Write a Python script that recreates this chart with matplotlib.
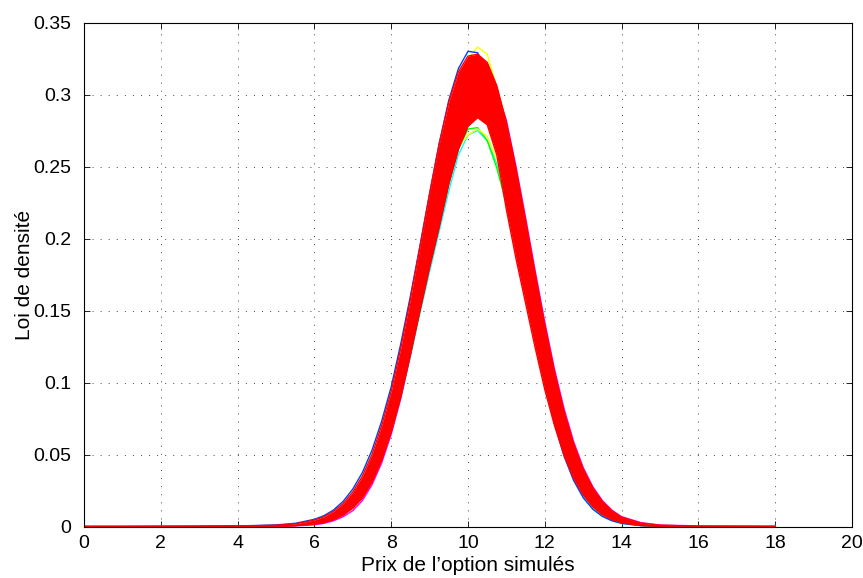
import matplotlib
matplotlib.use("Agg")
import matplotlib.pyplot as plt

# ---- data ----
x_grid = [0, 1, 2, 3, 4, 4.5, 5, 5.5, 6, 6.25, 6.5, 6.75, 7, 7.25, 7.5, 7.75,
          8, 8.25, 8.5, 8.75, 9, 9.25, 9.5, 9.75, 10, 10.25, 10.5, 10.75,
          11, 11.25, 11.5, 11.75, 12, 12.25, 12.5, 12.75, 13, 13.25, 13.5,
          13.75, 14, 14.5, 15, 16, 17, 18]

# outer (upper) edge of the red bundle of simulated densities
dens_upper = [0, 0, 0.0001, 0.0002, 0.0004, 0.0006, 0.0009, 0.0018,
              0.0045, 0.0068, 0.0105, 0.016, 0.024, 0.035, 0.050, 0.070,
              0.0938, 0.1239, 0.1579, 0.1945, 0.2313, 0.2657, 0.2947, 0.3157,
              0.3267, 0.328, 0.3223, 0.306, 0.2804, 0.2483, 0.2123, 0.1753,
              0.1398, 0.1077, 0.0801, 0.0575, 0.0399, 0.0268, 0.0173, 0.0108,
              0.0065, 0.0024, 0.0009, 0.0002, 0.0001, 0]
# inner (lower) edge of the red bundle
dens_lower = [0, 0, 0, 0, 0.0001, 0.0001, 0.0002, 0.0006,
              0.0016, 0.0028, 0.0048, 0.008, 0.0128, 0.0199, 0.0309, 0.046,
              0.0658, 0.0905, 0.1196, 0.150, 0.180, 0.208, 0.238, 0.262,
              0.278, 0.284, 0.279, 0.258, 0.220, 0.186, 0.155, 0.124,
              0.095, 0.0703, 0.0495, 0.0336, 0.0219, 0.0137, 0.0082, 0.0048,
              0.0026, 0.0007, 0.0002, 0, 0, 0]

# individual coloured curves peeking out of the bundle
dens_blue = [0, 0, 0.0001, 0.0002, 0.0004, 0.0007, 0.0011, 0.0022,
             0.005, 0.0075, 0.0115, 0.0175, 0.026, 0.0375, 0.053, 0.073,
             0.097, 0.127, 0.160, 0.195, 0.231, 0.266, 0.296, 0.318,
             0.330, 0.329, 0.316, 0.292, 0.258, 0.219, 0.178, 0.138,
             0.102, 0.072, 0.049, 0.032, 0.020, 0.012, 0.007, 0.004,
             0.0022, 0.0006, 0.0002, 0, 0, 0]
dens_cyan = [0, 0, 0, 0, 0.0001, 0.0001, 0.0003, 0.0008,
             0.002, 0.0034, 0.0055, 0.0088, 0.0138, 0.021, 0.032, 0.047,
             0.066, 0.090, 0.118, 0.148, 0.177, 0.205, 0.233, 0.258,
             0.272, 0.275, 0.268, 0.252, 0.229, 0.200, 0.168, 0.135,
             0.103, 0.075, 0.052, 0.034, 0.021, 0.0125, 0.0072, 0.004,
             0.0021, 0.0006, 0.0002, 0, 0, 0]
dens_green = [0, 0, 0, 0, 0.0001, 0.0001, 0.0002, 0.0007,
              0.0018, 0.0031, 0.0051, 0.0084, 0.0132, 0.0204, 0.0313, 0.0462,
              0.0655, 0.0895, 0.119, 0.151, 0.181, 0.209, 0.238, 0.262,
              0.276, 0.277, 0.268, 0.249, 0.224, 0.194, 0.162, 0.130,
              0.099, 0.073, 0.051, 0.0345, 0.0222, 0.0137, 0.008, 0.0046,
              0.0025, 0.0007, 0.0002, 0, 0, 0]
dens_yellow = [0, 0, 0, 0.0001, 0.0002, 0.0003, 0.0005, 0.001,
               0.0025, 0.004, 0.0065, 0.0105, 0.0165, 0.025, 0.037, 0.054,
               0.076, 0.103, 0.135, 0.171, 0.209, 0.246, 0.279, 0.306,
               0.325, 0.333, 0.328, 0.305, 0.278, 0.246, 0.209, 0.172,
               0.136, 0.104, 0.077, 0.055, 0.038, 0.0255, 0.0164, 0.0102,
               0.0062, 0.0023, 0.0008, 0.0002, 0.0001, 0]
dens_yellow_low = [0, 0, 0, 0, 0.0001, 0.0001, 0.0002, 0.0007,
                   0.0018, 0.0031, 0.0052, 0.0085, 0.0133, 0.0205, 0.0315, 0.0465,
                   0.066, 0.091, 0.121, 0.152, 0.182, 0.210, 0.240, 0.263,
                   0.272, 0.276, 0.271, 0.255, 0.231, 0.201, 0.169, 0.136,
                   0.104, 0.076, 0.053, 0.035, 0.0225, 0.0138, 0.0081, 0.0046,
                   0.0025, 0.0007, 0.0002, 0, 0, 0]
dens_magenta = [0, 0, 0, 0, 0.0001, 0.0001, 0.0001, 0.0004,
                0.0012, 0.0022, 0.004, 0.0068, 0.011, 0.018, 0.029, 0.044,
                0.064, 0.089, 0.119, 0.152, 0.186, 0.219, 0.250, 0.276,
                0.296, 0.306, 0.309, 0.303, 0.282, 0.250, 0.2145, 0.1775,
                0.142, 0.1095, 0.082, 0.059, 0.041, 0.0276, 0.018, 0.0113,
                0.0068, 0.0027, 0.001, 0.0004, 0.0002, 0.0001]

x_ticks = [0, 2, 4, 6, 8, 10, 12, 14, 16, 18, 20]
y_ticks = [0, 0.05, 0.1, 0.15, 0.2, 0.25, 0.3, 0.35]
y_tick_labels = ["0", "0.05", "0.1", "0.15", "0.2", "0.25", "0.3", "0.35"]
x_label = "Prix de l\u2019option simulés"
y_label = "Loi de densité"

# ---- drawing ----
plt.rcParams["font.family"] = ["Liberation Sans", "DejaVu Sans"]

fig = plt.figure(figsize=(8.63, 5.78), dpi=100)
ax = fig.add_axes([84 / 863, 51.5 / 578, 768 / 863, 504 / 578])

colored = [
    (dens_cyan, "#00ffff"),
    (dens_green, "#00ff00"),
    (dens_yellow_low, "#ffff00"),
    (dens_yellow, "#ffff00"),
    (dens_blue, "#0040ff"),
    (dens_magenta, "#ff00ff"),
]
for ys, c in colored:
    ax.plot(x_grid, ys, color=c, lw=1.0, zorder=2)

ax.fill_between(x_grid, dens_lower, dens_upper, color="#ff0000", lw=0, zorder=3)
ax.plot(x_grid, dens_upper, color="#ff0000", lw=1.0, zorder=3)
ax.plot(x_grid, dens_lower, color="#ff0000", lw=1.0, zorder=3)

ax.set_xlim(0, 20)
ax.set_ylim(0, 0.35)
ax.set_xticks(x_ticks)
ax.set_xticklabels([str(t) for t in x_ticks])
ax.set_yticks(y_ticks)
ax.set_yticklabels(y_tick_labels)

ax.grid(True, color="#444444", linestyle=(0, (1, 7.3)), lw=0.7)
ax.set_axisbelow(True)
for sp in ax.spines.values():
    sp.set_color("black")
    sp.set_linewidth(0.8)
    sp.set_zorder(5)

ax.tick_params(direction="in", length=4, width=0.6, top=True, right=True,
               labelsize=14, colors="black")
ax.tick_params(axis="y", pad=9)
ax.tick_params(axis="x", pad=6)
ax.set_xlabel(x_label, fontsize=15, labelpad=3)
ax.set_ylabel(y_label, fontsize=15, labelpad=0)

fig.savefig("out.png", dpi=100)
